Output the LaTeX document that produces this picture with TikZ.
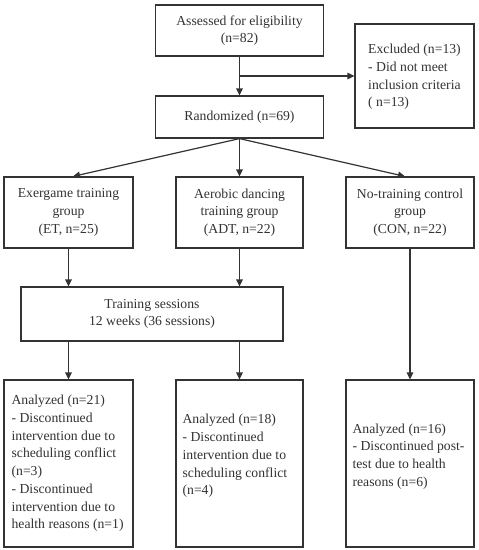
\documentclass[tikz,border=0pt]{standalone}
\usepackage{fontspec}
\setmainfont{Liberation Serif}
\usetikzlibrary{arrows.meta,calc}
\definecolor{ln}{RGB}{51,51,51}
\begin{document}
\begin{tikzpicture}[x=1pt,y=-1pt,
  box/.style={draw=ln, line width=1.2pt, inner sep=0pt, align=center, text=ln,
    font=\fontsize{13.7}{17.7}\selectfont},
  txt/.style={inner sep=0pt, align=left, text=ln, font=\fontsize{13.7}{17.7}\selectfont},
  arr/.style={draw=ln, line width=1.2pt, -{Triangle[length=7pt,width=6.5pt]}},
  ln/.style={draw=ln, line width=1.2pt}]
\useasboundingbox (0,0) rectangle (479,550);
\fill[white] (0,0) rectangle (479,550);

\node[box, minimum width=168pt, minimum height=51pt] (assess) at (239.5,30.5) {Assessed for eligibility\\(n=82)};
\node[box, minimum width=119pt, minimum height=104pt] (excl) at (414.5,76) {};
\node[txt] (exclt) at (414.5,77) {Excluded (n=13)\\- Did not meet\\inclusion criteria\\( n=13)};
\node[box, minimum width=168pt, minimum height=42pt] (rand) at (239.5,117) {Randomized (n=69)};

\node[box, minimum width=129pt, minimum height=71pt] (et) at (68.5,212.5) {Exergame training\\group\\(ET, n=25)};
\node[box, minimum width=127pt, minimum height=71pt] (adt) at (239.5,212.5) {Aerobic dancing\\training group\\(ADT, n=22)};
\node[box, minimum width=128pt, minimum height=71pt] (con) at (410,212.5) {No-training control\\group\\(CON, n=22)};

\node[box, minimum width=262pt, minimum height=54pt] (train) at (152,314) {Training sessions\\12 weeks (36 sessions)};

\node[box, minimum width=129pt, minimum height=167pt] (a1) at (68.5,463.5) {};
\node[box, minimum width=127pt, minimum height=167pt] (a2) at (239.5,463.5) {};
\node[box, minimum width=128pt, minimum height=167pt] (a3) at (410,463.5) {};

\node[txt, anchor=west] (a1t) at ($(a1.west)+(8pt,0)$) [yshift=0pt] {Analyzed (n=21)\\- Discontinued\\intervention due to\\scheduling conflict\\(n=3)\\- Discontinued\\intervention due to\\health reasons (n=1)};
\node[txt, anchor=west] (a2t) at ($(a2.west)+(7pt,7.5pt)$) {Analyzed (n=18)\\- Discontinued\\intervention due to\\scheduling conflict\\(n=4)};
\node[txt, anchor=west] (a3t) at ($(a3.west)+(7pt,7pt)$) {Analyzed (n=16)\\- Discontinued post-\\test due to health\\reasons (n=6)};

\draw[arr] (assess.south) -- (rand.north);
\coordinate (br) at (assess.south |- excl.west);
\draw[arr] (br) -- (excl.west);

\draw[arr] (rand.south) -- ([xshift=4.5pt]et.north);
\draw[arr] (rand.south) -- (adt.north);
\draw[arr] (rand.south) -- ([xshift=-5pt]con.north);

\draw[arr] (et.south) -- (et.south |- train.north);
\draw[arr] (adt.south) -- (adt.south |- train.north);

\draw[arr] (a1.north |- train.south) -- (a1.north);
\draw[arr] (a2.north |- train.south) -- (a2.north);
\draw[arr] (con.south) -- (a3.north);
\end{tikzpicture}
\end{document}
